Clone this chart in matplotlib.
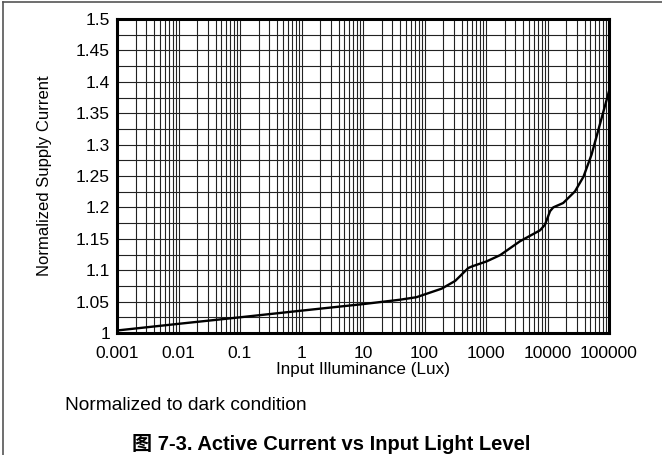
import matplotlib
matplotlib.use("Agg")
import matplotlib.pyplot as plt
from matplotlib.ticker import LogLocator, NullFormatter, MultipleLocator
from matplotlib.lines import Line2D

plt.rcParams['font.family'] = ['Liberation Sans', 'Noto Sans CJK SC', 'DejaVu Sans']

lux = [0.001, 0.01, 0.1, 1, 10, 40, 74, 190, 316, 515, 590, 1020, 1700, 3560,
       7560, 9100, 11000, 12400, 18000, 28000, 38500, 52000, 71000, 100000]
current = [1.004, 1.0146, 1.025, 1.0356, 1.046, 1.053, 1.057, 1.0706, 1.083, 1.1035,
           1.106, 1.114, 1.124, 1.146, 1.1635, 1.1725, 1.194, 1.200, 1.207, 1.2256,
           1.249, 1.284, 1.332, 1.385]

xticks = [0.001, 0.01, 0.1, 1, 10, 100, 1000, 10000, 100000]
xticklabels = ['0.001', '0.01', '0.1', '1', '10', '100', '1000', '10000', '100000']
yticks = [1, 1.05, 1.1, 1.15, 1.2, 1.25, 1.3, 1.35, 1.4, 1.45, 1.5]
yticklabels = ['1', '1.05', '1.1', '1.15', '1.2', '1.25', '1.3', '1.35', '1.4', '1.45', '1.5']

fig = plt.figure(figsize=(6.62, 4.55), dpi=100)
ax = fig.add_axes([117/662, 1-333/455, (609-117)/662, (333-19)/455])

ax.plot(lux, current, color='black', lw=1.7, zorder=3)
ax.set_xscale('log')
ax.set_xlim(0.001, 100000)
ax.set_ylim(1, 1.5)
ax.set_xticks(xticks)
ax.set_xticklabels(xticklabels)
ax.xaxis.set_minor_locator(LogLocator(base=10, subs=range(2, 10), numticks=100))
ax.xaxis.set_minor_formatter(NullFormatter())
ax.set_yticks(yticks)
ax.set_yticklabels(yticklabels)
ax.yaxis.set_minor_locator(MultipleLocator(0.025))
ax.grid(which='both', color='#222222', lw=0.8, zorder=1)
ax.tick_params(which='both', length=0, labelsize=12.5)
ax.tick_params(axis='x', pad=9)
ax.tick_params(axis='y', pad=5)
for s in ax.spines.values():
    s.set_linewidth(2.2)
ax.set_xlabel('Input Illuminance (Lux)', fontsize=12.3, labelpad=1)
ax.set_ylabel('Normalized Supply Current', fontsize=12, labelpad=17)

fig.text(65/662, 1-405/455, 'Normalized to dark condition', fontsize=13.8, va='center', ha='left')
fig.text(331/662, 1-444/455, '图 7-3. Active Current vs Input Light Level', fontsize=14.5,
         fontweight='bold', va='center', ha='center')

fig.lines.append(Line2D([3.3/662, 3.3/662], [0, 1-1.7/455], transform=fig.transFigure,
                        color='#555555', lw=1.2))
fig.lines.append(Line2D([3.3/662, 1], [1-1.7/455, 1-1.7/455], transform=fig.transFigure,
                        color='#555555', lw=1.2))

fig.savefig('out.png', dpi=100)
